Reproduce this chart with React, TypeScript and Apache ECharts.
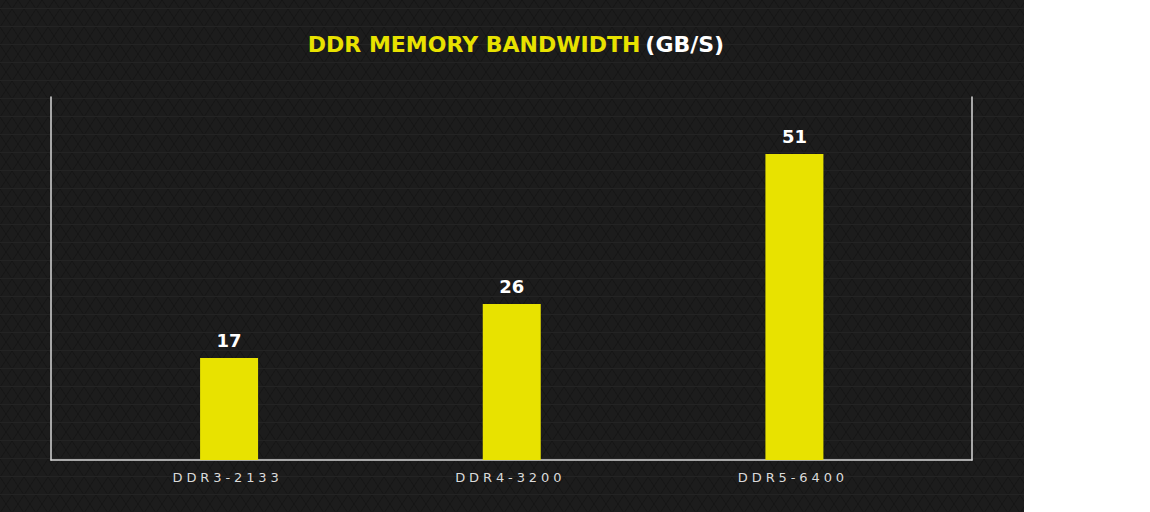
import React, { useEffect, useRef } from "react";
import * as echarts from "echarts";

const categories = ["DDR3-2133", "DDR4-3200", "DDR5-6400"];
const bandwidth = [17, 26, 51];
const titleMain = "DDR MEMORY BANDWIDTH";
const titleUnit = "(GB/S)";

const YELLOW = "#e8e200";
const BG = "#1c1c1c";
const AXIS = "#d6d6d6";
const XLABEL = "#dadada";

function makePattern(): HTMLCanvasElement | null {
  if (typeof document === "undefined") return null;
  const c = document.createElement("canvas");
  c.width = 12;
  c.height = 18;
  const ctx = c.getContext("2d");
  if (!ctx) return null;
  ctx.fillStyle = BG;
  ctx.fillRect(0, 0, 12, 18);
  ctx.strokeStyle = "#161616";
  ctx.lineWidth = 1;
  ctx.beginPath();
  ctx.moveTo(0, 9);
  ctx.lineTo(6, 0);
  ctx.lineTo(12, 9);
  ctx.moveTo(0, 9);
  ctx.lineTo(6, 18);
  ctx.lineTo(12, 9);
  ctx.stroke();
  ctx.strokeStyle = "#232323";
  ctx.beginPath();
  ctx.moveTo(0, 8.5);
  ctx.lineTo(12, 8.5);
  ctx.stroke();
  return c;
}

export default function App() {
  const ref = useRef<HTMLDivElement>(null);
  useEffect(() => {
    if (!ref.current) return;
    const chart = echarts.init(ref.current, null, { renderer: "svg" });
    const pat = makePattern();
    chart.setOption({
      animation: false,
      backgroundColor: BG,
      graphic: pat
        ? [
            {
              type: "rect",
              z: -10,
              silent: true,
              shape: { x: 0, y: 0, width: 1024, height: 512 },
              style: { fill: { image: pat, repeat: "repeat" } as any },
            },
          ]
        : [],
      title: {
        text: `{a|${titleMain}} {b|${titleUnit}}`,
        left: 511,
        textAlign: "center",
        top: 28,
        textStyle: {
          rich: {
            a: { color: YELLOW, fontSize: 22, fontWeight: "bold", fontFamily: "DejaVu Sans" },
            b: { color: "#ffffff", fontSize: 22, fontWeight: "bold", fontFamily: "DejaVu Sans" },
          },
        },
      },
      grid: [
        { left: 51, right: 52, top: 97, bottom: 52 },
        { left: 87.75, right: 88.25, top: 97, bottom: 52 },
      ],
      xAxis: [
        {
          gridIndex: 0,
          type: "category",
          data: [""],
          axisLine: { show: true, lineStyle: { color: AXIS, width: 1.5 } },
          axisTick: { show: false },
          axisLabel: { show: false },
        },
        {
          gridIndex: 1,
          type: "category",
          data: categories,
          axisLine: { show: false },
          axisTick: { show: false },
          axisLabel: {
            color: XLABEL,
            fontSize: 13,
            fontFamily: "DejaVu Sans",
            margin: 11,
            padding: [0, 3, 0, 0],
          },
        },
      ],
      yAxis: [
        {
          gridIndex: 0,
          type: "value",
          position: "left",
          axisLine: { show: true, onZero: false, lineStyle: { color: AXIS, width: 1.5 } },
          axisLabel: { show: false },
          splitLine: { show: false },
          axisTick: { show: false },
        },
        {
          gridIndex: 0,
          type: "value",
          position: "right",
          axisLine: { show: true, onZero: false, lineStyle: { color: AXIS, width: 1.5 } },
          axisLabel: { show: false },
          splitLine: { show: false },
          axisTick: { show: false },
        },
        {
          gridIndex: 1,
          type: "value",
          min: 0,
          max: 60.5,
          show: false,
        },
      ],
      series: [
        {
          type: "bar",
          xAxisIndex: 1,
          yAxisIndex: 2,
          data: bandwidth,
          barWidth: 58,
          itemStyle: { color: YELLOW },
          label: {
            show: true,
            position: "top",
            distance: 9,
            color: "#ffffff",
            fontSize: 18,
            fontWeight: "bold",
            fontFamily: "DejaVu Sans",
          },
        },
      ],
    });
    return () => chart.dispose();
  }, []);
  return (
    <div style={{ position: "absolute", left: 0, top: 0, width: 1150, height: 512, background: "#ffffff" }}>
      <style>{`text[fill="${XLABEL}"]{letter-spacing:3.9px;}`}</style>
      <div ref={ref} style={{ width: 1024, height: 512 }} />
    </div>
  );
}
